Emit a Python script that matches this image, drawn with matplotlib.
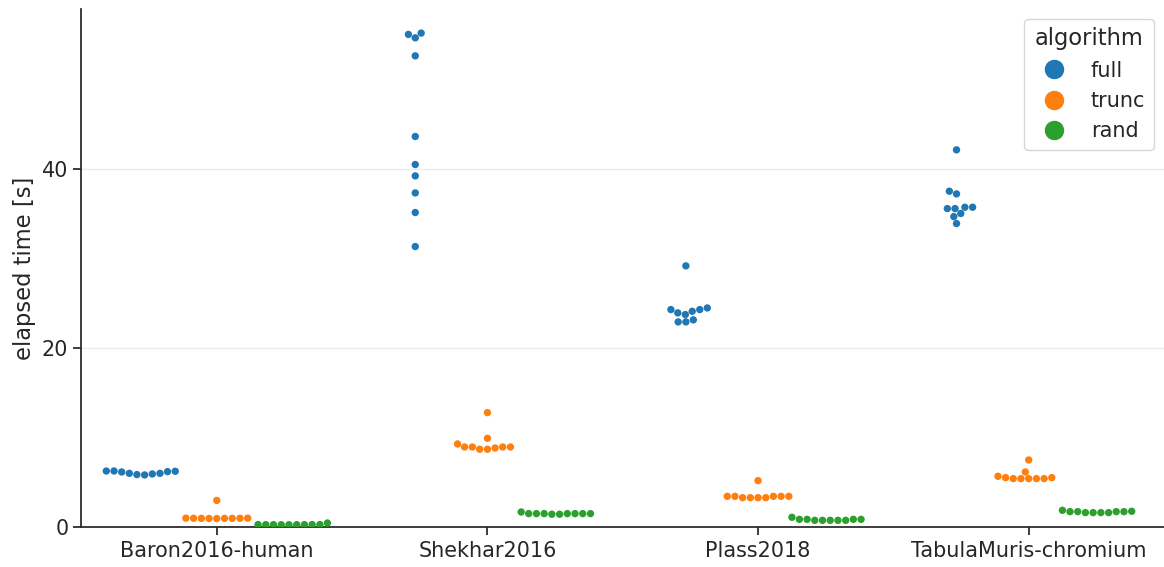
import matplotlib
matplotlib.use("Agg")
import matplotlib.pyplot as plt
from matplotlib.lines import Line2D
import numpy as np
import pandas as pd
import seaborn as sns

# datasets and algorithms
datasets = ["Baron2016-human", "Shekhar2016", "Plass2018", "TabulaMuris-chromium"]
algorithms = ["full", "trunc", "rand"]

# elapsed times [s], 10 runs each
baron_full = [5.85, 5.89, 5.96, 6.03, 6.03, 6.18, 6.22, 6.26, 6.29, 6.29]
baron_trunc = [3.0, 0.98, 0.99, 1.0, 1.0, 1.0, 1.01, 1.01, 1.02, 1.02]
baron_rand = [0.48, 0.29, 0.29, 0.3, 0.3, 0.3, 0.3, 0.31, 0.31, 0.31]

shekhar_full = [55.05, 54.67, 55.2, 52.66, 43.65, 40.52, 39.25, 37.35, 35.16, 31.36]
shekhar_trunc = [12.81, 9.94, 9.31, 8.97, 8.97, 8.72, 8.72, 8.86, 8.97, 8.97]
shekhar_rand = [1.71, 1.53, 1.53, 1.53, 1.53, 1.53, 1.53, 1.53, 1.46, 1.46]

plass_full = [29.2, 24.32, 23.95, 23.76, 24.13, 24.32, 24.5, 22.94, 22.94, 23.17]
plass_trunc = [5.21, 3.46, 3.46, 3.46, 3.46, 3.46, 3.31, 3.31, 3.31, 3.31]
plass_rand = [1.12, 0.89, 0.89, 0.89, 0.89, 0.78, 0.78, 0.78, 0.78, 0.78]

tabula_full = [42.16, 37.54, 37.24, 35.6, 35.6, 35.75, 35.75, 34.7, 35.05, 33.93]
tabula_trunc = [7.52, 6.18, 5.55, 5.55, 5.44, 5.44, 5.44, 5.44, 5.44, 5.7]
tabula_rand = [1.79, 1.75, 1.75, 1.64, 1.64, 1.64, 1.64, 1.75, 1.75, 1.9]

times = {
    ("Baron2016-human", "full"): baron_full,
    ("Baron2016-human", "trunc"): baron_trunc,
    ("Baron2016-human", "rand"): baron_rand,
    ("Shekhar2016", "full"): shekhar_full,
    ("Shekhar2016", "trunc"): shekhar_trunc,
    ("Shekhar2016", "rand"): shekhar_rand,
    ("Plass2018", "full"): plass_full,
    ("Plass2018", "trunc"): plass_trunc,
    ("Plass2018", "rand"): plass_rand,
    ("TabulaMuris-chromium", "full"): tabula_full,
    ("TabulaMuris-chromium", "trunc"): tabula_trunc,
    ("TabulaMuris-chromium", "rand"): tabula_rand,
}

rows = []
for (ds, alg), vals in times.items():
    for v in vals:
        rows.append({"dataset": ds, "algorithm": alg, "elapsed": v})
df = pd.DataFrame(rows)

sns.set_theme(style="ticks", font_scale=1.36)
plt.rcParams["font.family"] = ["DejaVu Sans"]

palette = sns.color_palette("tab10", 3)

fig, ax = plt.subplots(figsize=(11.64, 5.67), dpi=100)
sns.swarmplot(data=df, x="dataset", y="elapsed", hue="algorithm",
              order=datasets, hue_order=algorithms, palette=palette,
              dodge=True, size=5.3, ax=ax, legend=False)

ax.set_ylim(0, None)
ax.set_xlim(-0.5, 3.5)
ax.set_yticks([0, 20, 40])
ax.yaxis.grid(True, color="0.92", linewidth=1)
ax.set_axisbelow(True)
ax.set_xlabel("")
ax.set_ylabel("elapsed time [s]")
sns.despine(ax=ax)

handles = [Line2D([], [], marker="o", linestyle="", color=c, markersize=13)
           for c in palette]
ax.legend(handles, algorithms, title="algorithm", loc="upper right",
          frameon=True)

fig.subplots_adjust(left=0.07, right=1.0, top=0.985, bottom=0.07)
fig.savefig("out.png", dpi=100)
